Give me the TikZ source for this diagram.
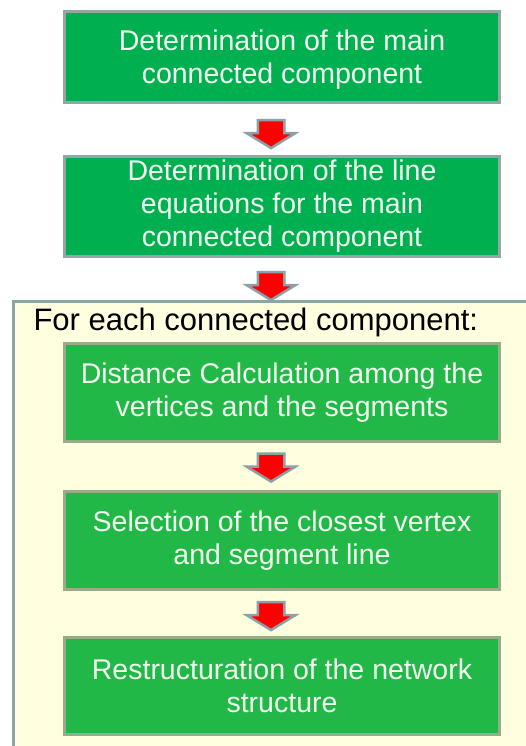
\documentclass[tikz,border=0pt]{standalone}
\usepackage{fontspec}
\setmainfont{Liberation Sans}
\usetikzlibrary{shapes.arrows,positioning,calc}
\definecolor{topgreen}{RGB}{0,176,80}
\definecolor{stepgreen}{RGB}{34,184,72}
\definecolor{topedge}{RGB}{150,165,165}
\definecolor{stepedge}{RGB}{150,172,140}
\definecolor{loopfill}{RGB}{255,255,224}
\definecolor{loopedge}{RGB}{140,165,165}
\definecolor{arredge}{RGB}{140,160,165}
\definecolor{boxtext}{RGB}{242,255,240}

\begin{document}
\begin{tikzpicture}[x=1pt,y=-1pt,
    stepbox/.style={draw=stepedge,line width=3pt,fill=stepgreen,minimum width=435pt,align=center,inner sep=0pt,font=\fontsize{28.5}{33}\selectfont,text=boxtext},
    topbox/.style={stepbox,draw=topedge,fill=topgreen},
    downarr/.style={single arrow,draw=arredge,line width=2.5pt,fill=red,rotate=-90,minimum height=28pt,minimum width=0pt,inner xsep=0pt,inner ysep=12pt,single arrow head extend=11pt,single arrow tip angle=117}
]
\useasboundingbox (0,0) rectangle (526,746);
\clip (0,0) rectangle (526,746);
\fill[white] (0,0) rectangle (526,746);
% loop frame
\node[draw=loopedge,line width=3pt,fill=loopfill,anchor=north west,minimum width=560pt,minimum height=500pt] (loop) at (11.5,299.5) {};
\node[anchor=base west,font=\fontsize{31}{36}\selectfont] (looptitle) at (30,330) {For each connected component:};
% steps
\node[topbox,minimum height=91pt] (main) at (282,57) {\rule{0pt}{26pt}Determination of the main\\connected component};
\node[topbox,minimum height=100pt] (eqs) at (282,206.5) {Determination of the line\\equations for the main\\connected component};
\node[stepbox,minimum height=98pt] (dist) at (282,392.5) {Distance Calculation among the\\vertices and the segments};
\node[stepbox,minimum height=98pt] (sel) at (282,540.5) {Selection of the closest vertex\\and segment line};
\node[stepbox,minimum height=97pt] (restr) at (282,686) {Restructuration of the network\\structure};
% arrows
\node[downarr] (a1) at (271,130) {};
\node[downarr] (a2) at (271,282) {};
\node[downarr] (a3) at (271,463.5) {};
\node[downarr] (a4) at (271,612) {};
\end{tikzpicture}
\end{document}
